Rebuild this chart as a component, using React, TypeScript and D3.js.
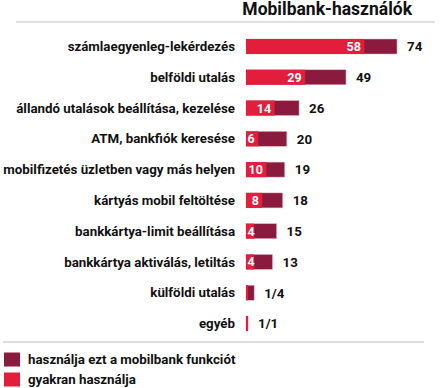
import { useEffect, useRef } from 'react';
import * as d3 from 'd3';

const categories = [
  'számlaegyenleg-lekérdezés',
  'belföldi utalás',
  'állandó utalások beállítása, kezelése',
  'ATM, bankfiók keresése',
  'mobilfizetés üzletben vagy más helyen',
  'kártyás mobil feltöltése',
  'bankkártya-limit beállítása',
  'bankkártya aktiválás, letiltás',
  'külföldi utalás',
  'egyéb',
];
const usesValues = [74, 49, 26, 20, 19, 18, 15, 13, 4, 1];
const oftenValues = [58, 29, 14, 6, 10, 8, 4, 4, 1, 1];
const totalLabels = ['74', '49', '26', '20', '19', '18', '15', '13', '1/4', '1/1'];
const innerLabels = ['58', '29', '14', '6', '10', '8', '4', '4', '', ''];
const legendLabels = ['használja ezt a mobilbank funkciót', 'gyakran használja'];

const DARK = '#8a1b3f';
const RED = '#e31d3c';
const FONT = 'Roboto, "Open Sans", sans-serif';

export default function App() {
  const svgRef = useRef<SVGSVGElement>(null);

  useEffect(() => {
    const svg = d3.select(svgRef.current);
    svg.selectAll('*').remove();

    const x = d3.scaleLinear().domain([0, 74]).range([246, 397]);
    const y = d3.scalePoint<string>().domain(categories).range([46.5, 323.5]);
    const barH = 15;

    // title
    svg.append('text')
      .attr('x', 412).attr('y', 15)
      .attr('text-anchor', 'end')
      .attr('font-family', FONT).attr('font-weight', 700).attr('font-size', 17.5)
      .attr('fill', '#111')
      .text('Mobilbank-használók');
    svg.append('line')
      .attr('x1', 16).attr('x2', 435).attr('y1', 22).attr('y2', 22)
      .attr('stroke', '#d6d6d6').attr('stroke-width', 1.5);

    const rows = svg.append('g').selectAll('g')
      .data(categories)
      .enter().append('g')
      .attr('transform', (d) => `translate(0, ${y(d)})`);

    rows.append('text')
      .attr('x', 235).attr('dy', '0.35em')
      .attr('text-anchor', 'end')
      .attr('font-family', FONT).attr('font-weight', 700).attr('font-size', 13.3)
      .attr('fill', '#111')
      .text((d) => d);

    rows.append('rect')
      .attr('x', x(0)).attr('y', -barH / 2)
      .attr('width', (_, i) => x(usesValues[i]) - x(0))
      .attr('height', barH)
      .attr('fill', DARK)
      .attr('stroke', '#e9b7c2').attr('stroke-width', 0.5);

    rows.append('rect')
      .attr('x', x(0)).attr('y', -barH / 2)
      .attr('width', (_, i) => x(oftenValues[i]) - x(0))
      .attr('height', barH)
      .attr('fill', RED);

    rows.append('text')
      .attr('x', (_, i) => (oftenValues[i] < 8 ? x(0) + 1.5 : x(oftenValues[i]) - 3.5))
      .attr('dy', '0.36em')
      .attr('text-anchor', (_, i) => (oftenValues[i] < 8 ? 'start' : 'end'))
      .attr('font-family', FONT).attr('font-weight', 700).attr('font-size', 12.5)
      .attr('fill', '#fff')
      .text((_, i) => innerLabels[i]);

    rows.append('text')
      .attr('x', (_, i) => x(usesValues[i]) + 10)
      .attr('dy', '0.36em')
      .attr('font-family', FONT).attr('font-weight', 700).attr('font-size', 13.3)
      .attr('fill', '#111')
      .text((_, i) => totalLabels[i]);

    // legend
    svg.append('line')
      .attr('x1', 3).attr('x2', 424).attr('y1', 342).attr('y2', 342)
      .attr('stroke', '#dcdcdc').attr('stroke-width', 2);

    const legend = svg.append('g').selectAll('g')
      .data(legendLabels)
      .enter().append('g')
      .attr('transform', (_, i) => `translate(0, ${359.5 + i * 20})`);
    legend.append('rect')
      .attr('x', 4).attr('y', -7).attr('width', 16).attr('height', 14)
      .attr('fill', (_, i) => (i === 0 ? DARK : RED));
    legend.append('text')
      .attr('x', 28).attr('dy', '0.35em')
      .attr('font-family', FONT).attr('font-weight', 700).attr('font-size', 13.3)
      .attr('fill', '#111')
      .text((d) => d);
  }, []);

  return (
    <svg ref={svgRef} width={441} height={388} style={{ position: 'absolute', left: 0, top: 0 }} />
  );
}
